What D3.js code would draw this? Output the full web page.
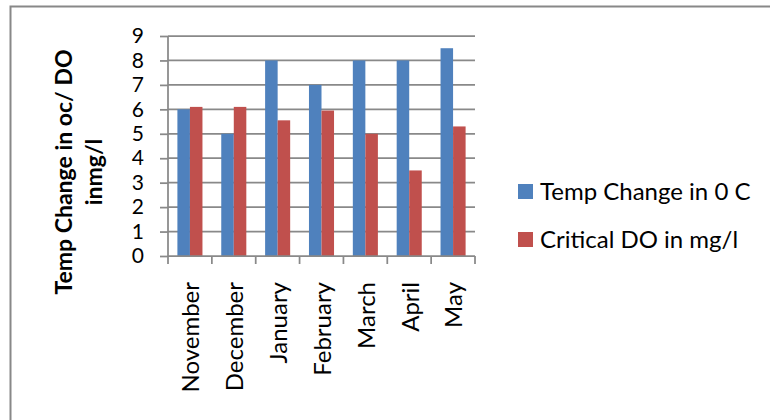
<!DOCTYPE html>
<html>
<head>
<meta charset="utf-8">
<script src="https://cdn.jsdelivr.net/npm/d3@7"></script>
<style>
  html, body { margin: 0; padding: 0; background: #fff; }
  svg { display: block; }
  text { font-family: Lato, "Open Sans", sans-serif; fill: #000; }
</style>
</head>
<body>
<svg id="chart" width="770" height="420"></svg>
<script>
// Monthly temperature change and critical dissolved oxygen
const months = ["November", "December", "January", "February", "March", "April", "May"];
const seriesNames = ["Temp Change in 0 C", "Critical DO in mg/l"];
const tempChange = [6, 5, 8, 7, 8, 8, 8.5];
const criticalDO = [6.1, 6.1, 5.55, 5.95, 5, 3.5, 5.3];
const yTicks = [0, 1, 2, 3, 4, 5, 6, 7, 8, 9];
const colors = ["#4f81bd", "#c0504d"];
const yTitleLines = ["Temp Change in oc/ DO", "inmg/l"];

const svg = d3.select("#chart");
const gridColor = "#898989";

// outer frame
svg.append("rect")
  .attr("x", 10.5).attr("y", 6.5)
  .attr("width", 820).attr("height", 500)
  .attr("fill", "none").attr("stroke", "#888").attr("stroke-width", 2);

const plot = { left: 168, right: 475, top: 36, bottom: 256 };

const x0 = d3.scaleBand().domain(months).range([plot.left, plot.right]).padding(0);
const bw = x0.bandwidth();
const barW = bw / 3.5;           // 150% gap between groups
const x1 = d3.scaleBand().domain(seriesNames)
  .range([(bw - 2 * barW) / 2, (bw + 2 * barW) / 2]).padding(0);
const y = d3.scaleLinear().domain([0, 9]).range([plot.bottom, plot.top]);

// horizontal gridlines
svg.append("g")
  .selectAll("line").data(yTicks.filter(d => d > 0)).join("line")
  .attr("x1", plot.left).attr("x2", plot.right)
  .attr("y1", d => y(d)).attr("y2", d => y(d))
  .attr("stroke", gridColor).attr("stroke-width", 1.75);

// bars
const table = months.map((m, i) => ({ month: m, values: [tempChange[i], criticalDO[i]] }));
svg.append("g")
  .selectAll("g").data(table).join("g")
  .attr("transform", d => `translate(${x0(d.month)},0)`)
  .selectAll("rect").data(d => d.values.map((v, k) => ({ key: seriesNames[k], v, k })))
  .join("rect")
  .attr("x", d => x1(d.key))
  .attr("width", x1.bandwidth())
  .attr("y", d => y(d.v))
  .attr("height", d => y(0) - y(d.v))
  .attr("fill", d => colors[d.k]);

// y axis
const yAxis = svg.append("g")
  .attr("transform", `translate(${plot.left},0)`)
  .call(d3.axisLeft(y).tickValues(yTicks).tickFormat(d3.format("d")).tickSize(8).tickPadding(16));
yAxis.select(".domain").attr("stroke", gridColor).attr("stroke-width", 1.75)
  .attr("d", `M0,${plot.top}V${plot.bottom}`);
yAxis.selectAll(".tick line").attr("stroke", gridColor).attr("stroke-width", 1.75);
yAxis.selectAll(".tick text").style("font-size", "21px")
  .style("font-family", "Lato, 'Open Sans', sans-serif").attr("fill", "#000");

// x axis: tick marks at category boundaries
const xAxisG = svg.append("g");
xAxisG.append("line")
  .attr("x1", plot.left).attr("x2", plot.right)
  .attr("y1", plot.bottom).attr("y2", plot.bottom)
  .attr("stroke", gridColor).attr("stroke-width", 1.75);
const edges = months.map(m => x0(m)).concat([plot.right]);
xAxisG.selectAll("line.tk").data(edges).join("line").attr("class", "tk")
  .attr("x1", d => d).attr("x2", d => d)
  .attr("y1", plot.bottom).attr("y2", plot.bottom + 8)
  .attr("stroke", gridColor).attr("stroke-width", 1.75);
xAxisG.selectAll("text").data(months).join("text")
  .attr("transform", d => `translate(${x0(d) + bw / 2 + 1},${plot.bottom + 26}) rotate(-90)`)
  .attr("text-anchor", "end")
  .attr("dy", "0.35em")
  .style("font-size", "24px")
  .text(d => d);

// y axis title
const titleG = svg.append("g")
  .attr("transform", `translate(64,172) rotate(-90)`);
titleG.selectAll("text").data(yTitleLines).join("text")
  .attr("x", 0).attr("y", (d, i) => i * 30)
  .attr("dy", "0.35em")
  .attr("text-anchor", "middle")
  .style("font-size", "23px").style("font-weight", "bold")
  .text(d => d);

// legend
const legend = svg.append("g");
const legendRows = legend.selectAll("g").data(seriesNames).join("g")
  .attr("transform", (d, i) => `translate(518,${184 + i * 48})`);
legendRows.append("rect").attr("width", 15).attr("height", 15)
  .attr("fill", (d, i) => colors[i]);
legendRows.append("text").attr("x", 22).attr("y", 7.5).attr("dy", "0.35em")
  .style("font-size", "24px").text(d => d);
</script>
</body>
</html>
